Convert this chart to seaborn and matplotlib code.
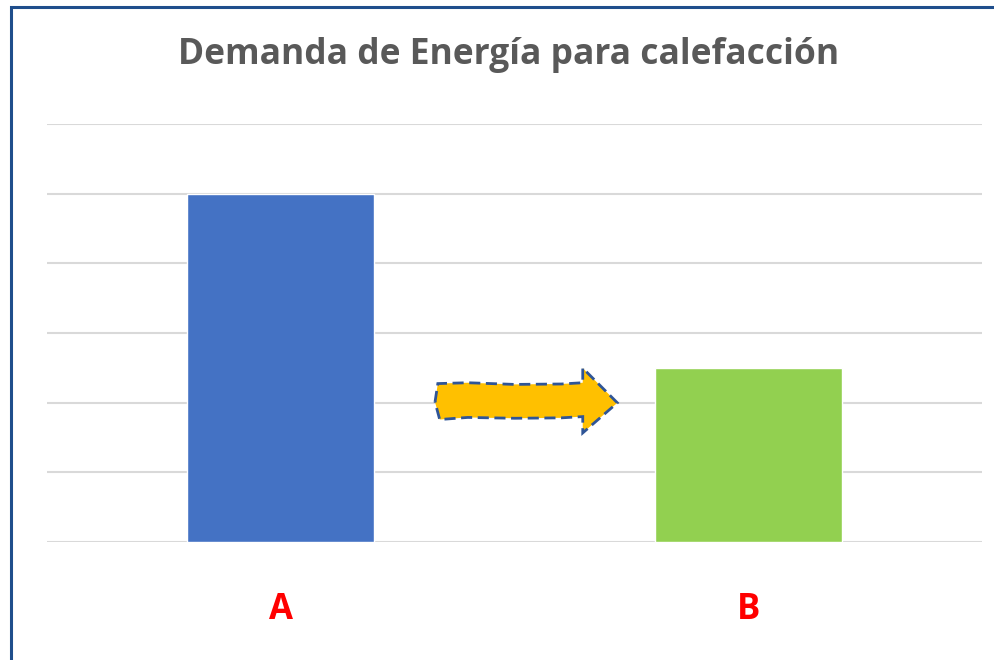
import numpy as np
import pandas as pd
import seaborn as sns
import matplotlib.pyplot as plt
from matplotlib.patches import Polygon, Rectangle

# data
categories = ['A', 'B']
demand = [5.0, 2.5]
bar_colors = ['#4472C4', '#92D050']

sns.set_theme(style='white')
plt.rcParams['font.family'] = ['Open Sans', 'DejaVu Sans']

df = pd.DataFrame({'caso': categories, 'demanda': demand})

fig = plt.figure(figsize=(9.94, 6.6), dpi=100)
ax = fig.add_axes([0.0473, 0.1788, 0.9406, 0.6333])

sns.barplot(data=df, x='caso', y='demanda', hue='caso', palette=bar_colors,
            width=0.4, saturation=1, legend=False, ax=ax, zorder=2)

ax.set_ylim(0, 6)
ax.set_xlim(-0.5, 1.5)
ax.set_yticks(np.arange(0, 7, 1))
ax.yaxis.grid(True, color='#D9D9D9', linewidth=1.5, zorder=0)
ax.set_yticklabels([])
ax.tick_params(axis='y', length=0)
ax.tick_params(axis='x', length=0, pad=36)
for lbl in ax.get_xticklabels():
    lbl.set_color('#FF0000')
    lbl.set_fontweight('bold')
    lbl.set_fontsize(25)
ax.set_xlabel('')
ax.set_ylabel('')
sns.despine(ax=ax, left=True, bottom=True, top=True, right=True)

fig.text(0.512, 0.917, 'Demanda de Energía para calefacción', ha='center', va='center',
         fontsize=25.5, fontweight='bold', color='#595959')

# wavy yellow arrow between the bars (axes fraction coords)
top = [(0.418, 0.379), (0.45, 0.381), (0.5, 0.377), (0.55, 0.378), (0.573, 0.381)]
head = [(0.573, 0.416), (0.610, 0.333), (0.573, 0.261)]
bottom = [(0.573, 0.300), (0.55, 0.297), (0.5, 0.296), (0.45, 0.298), (0.42, 0.293)]
pts = [(0.415, 0.335)] + top + head + bottom
arrow = Polygon(pts, closed=True, transform=ax.transAxes, facecolor='#FFC000',
                edgecolor='#2F5597', linewidth=2, linestyle=(0, (4, 2)), zorder=3)
ax.add_patch(arrow)

# dark blue frame (only top and left visible in the crop)
frame = Rectangle((11 / 994, -0.1), 1.2, 1.1 - 7 / 660, transform=fig.transFigure,
                  fill=False, edgecolor='#1F4E8C', linewidth=2.2, zorder=10)
fig.patches.append(frame)

fig.savefig('out.png', dpi=100)
